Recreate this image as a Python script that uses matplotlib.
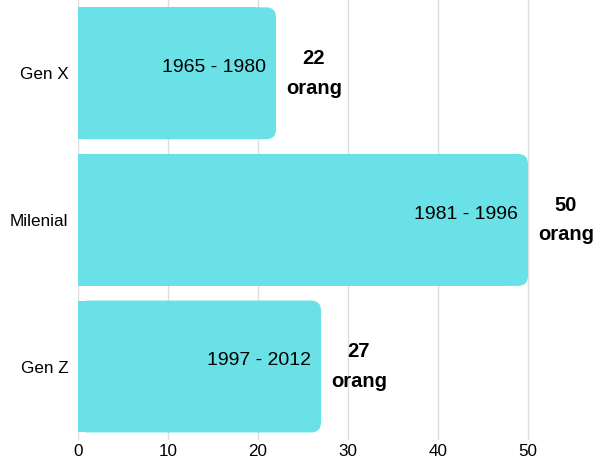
import matplotlib.pyplot as plt
from matplotlib.patches import FancyBboxPatch, Rectangle

plt.rcParams['font.family'] = ['Liberation Sans', 'DejaVu Sans']

groups = ['Gen X', 'Milenial', 'Gen Z']
counts = [22, 50, 27]
years = ['1965 - 1980', '1981 - 1996', '1997 - 2012']
color = '#6ae1e6'

fig = plt.figure(figsize=(6, 4.62), dpi=100)
ax = fig.add_axes([0.13, 0.048, 0.87, 0.952])

bars = ax.barh(groups, counts, height=0.9, color='none')
ax.set_ylim(2.5, -0.5)
ax.set_xlim(0, 58)

# rounded right corners
for b in bars:
    x, y, w, h = b.get_x(), b.get_y(), b.get_width(), b.get_height()
    r = 1.1
    ax.add_patch(FancyBboxPatch((x, y), w, h, boxstyle=f'round,pad=0,rounding_size={r}',
                                mutation_aspect=0.062, fc=color, ec='none', zorder=2))
    ax.add_patch(Rectangle((x, y), w - 2 * r, h, fc=color, ec='none', zorder=2))

for i, (c, yr) in enumerate(zip(counts, years)):
    ax.text(c - 1.1, i - 0.04, yr, ha='right', va='center', fontsize=14, zorder=3)
    ax.text(c + 4.2, i, f'{c}\norang', ha='center', va='center', fontsize=14.5,
            fontweight='bold', linespacing=1.7, zorder=3)

ax.set_xticks([0, 10, 20, 30, 40, 50])
ax.grid(axis='x', color='#dddddd', linewidth=1, zorder=0)
ax.set_axisbelow(True)
for s in ax.spines.values():
    s.set_visible(False)
ax.tick_params(length=0, labelsize=12.3)
ax.tick_params(axis='y', pad=7)
ax.tick_params(axis='x', pad=3)

fig.savefig('out.png')
